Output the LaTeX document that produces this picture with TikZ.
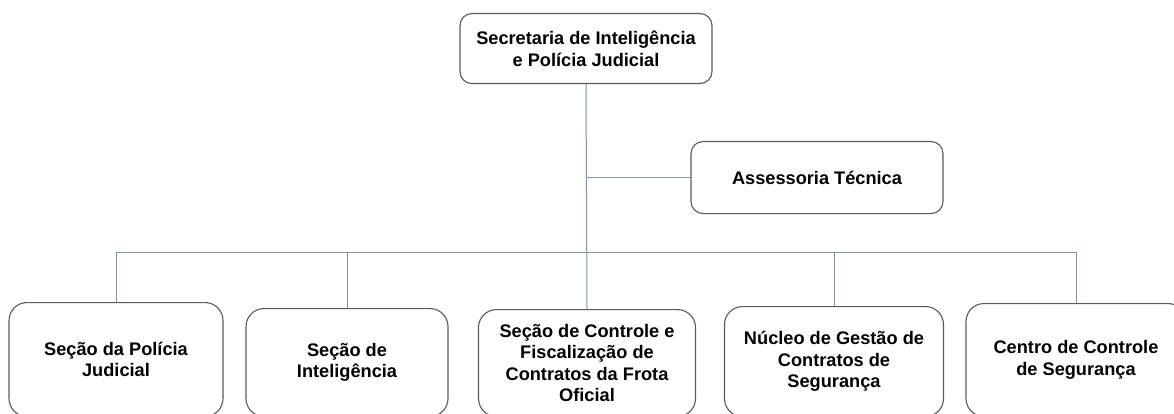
\documentclass[tikz,border=0pt]{standalone}
\usepackage{fontspec}
\setmainfont{Liberation Sans}
\definecolor{boxline}{HTML}{5A5A5A}
\definecolor{conn}{HTML}{8094AA}
\begin{document}
\begin{tikzpicture}[x=1pt,y=-1pt,
  orgbox/.style={draw=boxline,line width=1.1pt,rounded corners=#1,fill=white,
    align=center,inner sep=0pt,anchor=north,
    font=\fontsize{18.2}{21.5}\selectfont\bfseries},
  orgbox/.default=12pt,
  link/.style={draw=conn,line width=1pt}]
\useasboundingbox (0,0) rectangle (1174,414);
\node[orgbox=12pt,minimum width=252pt,minimum height=70pt] (top) at (586,13)
  {Secretaria de Inteligência\\e Polícia Judicial};
\node[orgbox=12pt,minimum width=252pt,minimum height=72pt] (as) at (817,141)
  {Assessoria Técnica};
\node[orgbox=18pt,minimum width=214pt,minimum height=114pt] (b1) at (116,302)
  {Seção da Polícia\\Judicial};
\node[orgbox=18pt,minimum width=202pt,minimum height=108pt] (b2) at (347,308)
  {Seção de\\Inteligência};
\node[orgbox=18pt,minimum width=217pt,minimum height=107pt] (b3) at (587,309)
  {Seção de Controle e\\Fiscalização de\\Contratos da Frota\\Oficial};
\node[orgbox=18pt,minimum width=219pt,minimum height=110pt] (b4) at (834,306)
  {Núcleo de Gestão de\\Contratos de\\Segurança};
\node[orgbox=18pt,minimum width=220pt,minimum height=113pt] (b5) at (1076,303)
  {Centro de Controle\\de Segurança};
\coordinate (bar) at (587,252);
\begin{scope}[on background layer/.style={}]
\draw[link] (top.south) -- (b3.north);
\draw[link] (as.west) -- (as.west -| top.south);
\draw[link] (b1.north) -- (b1.north |- bar) -- (b5.north |- bar) -- (b5.north);
\draw[link] (b2.north) -- (b2.north |- bar);
\draw[link] (b4.north) -- (b4.north |- bar);
\end{scope}
\end{tikzpicture}
\end{document}
